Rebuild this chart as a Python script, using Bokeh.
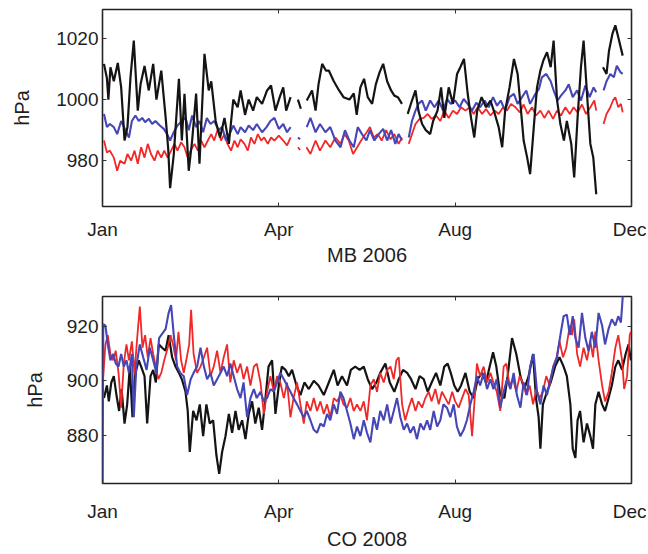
import math
from bokeh.plotting import figure
from bokeh.layouts import column
from bokeh.models import Range1d, FixedTicker, LinearAxis, CustomJSTickFormatter
from bokeh.embed import file_html
from bokeh.resources import INLINE

NaN = float("nan")

# x axis: day of year, tick labels
x_ticks = [0, 120, 240, 360]
x_labels = ["Jan", "Apr", "Aug", "Dec"]

# ---------------- MB 2006 ----------------
mb_yticks = [980, 1000, 1020]

mb_black_day = [1, 3, 4, 5.4, 7.7, 10.4, 12.7, 15, 17, 19, 21.3, 24, 25.9, 28.6, 31.5, 34.5, 36.7, 40, 43, 44.7,
                46, 48.5, 52, 54, 55.8, 58.7, 61, 63.7, 66, 69.4, 72.3, 74, 77, 80, 83, 86, 89, 92, 94, 97,
                99.5, 102.5, 105, 108.6, 112, 114.7, 117.7, 120.6, 123, 125, 128, 130, 133, 135, 136.5, 139, 142.6, 145, 147, 149.5,
                152, 154, 157.4, 161, 164, 168, 171, 173, 175.5, 178, 180.5, 183.5, 186, 188.6, 191, 193.7, 196.4, 198.6, 201, 203.8,
                206, 207.7, 210.6, 213, 215, 217.5, 220, 223, 225, 228, 230.4, 232.6, 235.6, 238.5, 241.3, 243.5, 246, 248.5, 250.8, 253,
                255, 258, 261, 264, 267, 269.6, 272, 274, 277, 280, 282.5, 284.4, 286.6, 289, 291, 293.5, 295.7, 298, 300, 302.5,
                305, 307, 309.3, 311.6, 314, 316, 319, 321, 323.3, 325.6, 327.4, 329.7, 332, 334, 336, 338, 340.6, 343, 344.7, 347,
                349, 351, 354]
mb_black_hpa = [1011.7, 1007, 1000, 1010.6, 1006, 1012, 1004, 986.6, 991, 1007, 1019.3, 996.4, 1005, 1011, 1003, 1011.7, 1000, 1009.5, 994, 984,
                971, 982, 1006.8, 986.6, 1001.9, 976.7, 986.6, 1002, 979, 1015, 1003, 1006, 993, 987.6, 994, 985.5, 1000, 997.5, 1003, 995,
                1000, 996.4, 1000.8, 998.6, 1003, 1004.6, 996.4, 1000.8, 1004, 996.4, 1000.8, NaN, 1000, 997, NaN, 999.7, 1003, 996.4, 1005, 1011.7,
                1009.5, 1009.5, 1006, 1003, 1000.8, 1000, 1002, 995, 1004, 1006.8, 1000.8, 998.6, 1005, 1009, 1011.7, 1006, 1003, 1001.3, 1000.8, 998.6,
                NaN, 995.3, 999.7, 1003, 996.4, 992, 990, 988.7, 993, 996.4, 1004, 994, 1004, 998.6, 1008.4, 1010.6, 1013.3, 1002, 994, 987.6,
                996.4, 1000.8, 997.5, 999.7, 995.3, 991, 984.4, 996.4, 1004, 1013.3, 1008.4, 998.6, 986.6, 981, 975.6, 991, 1004, 1009.5, 1012.8, 1015.5,
                1010.6, 1019.3, 1000, 992, 986.6, 993, 985.5, 974.5, 994, 1010.6, 1019.3, 1002, 985.5, 981, 969, NaN, 1010.6, 1008.4, 1016, 1021.5,
                1024.3, 1020.4, 1014.4]

mb_blue_day = [1, 3, 5, 7.7, 10, 12.7, 15.6, 18, 20, 22.4, 24.7, 27, 29, 31.5, 33.8, 36, 39, 41.7, 44, 46,
               48.5, 51, 54, 56.5, 58.7, 61, 63.7, 66, 68.5, 71, 73.5, 76, 79, 81.4, 84, 87, 89, 92, 94, 97,
               99.5, 102.5, 105, 108.6, 111.6, 114.3, 117, 120, 123, 125.6, 128, 130, 133, 134.5, 136.5, 139, 141.5, 145, 148, 151.7,
               155, 158.5, 162, 165, 168, 171, 173.7, 176.6, 179.6, 182, 185, 188, 191, 193.7, 196.4, 199.3, 201.5, 203.8, 206, 208.4,
               210.6, 213, 215, 217.5, 220, 223, 225.9, 228.8, 231.8, 234.5, 237, 240, 243, 245.8, 248.5, 251.5, 254.4, 257, 260, 262.8,
               265.8, 268.5, 271, 274, 277, 280, 282.5, 285.5, 288.4, 291, 293.9, 297, 299, 302, 305, 307, 309.7, 312, 315, 317.3,
               320, 323, 325.6, 328.6, 331.5, 334.2, 336, 338, 341, 343, 345.6, 348, 350, 352.4, 354]
mb_blue_hpa = [995.3, 991, 992, 991, 988.7, 993, 990, 987.6, 993, 994.8, 993, 994, 992.6, 993.7, 992, 993, 991.5, 990.4, 988.7, 986.6,
               989.3, 991.5, 993, 994, 990, 994.8, 991, 993, 989.3, 994, 992, 993, 990, 991, 986.6, 989.3, 991.5, 988.7, 991, 989.3,
               991.5, 990, 992, 989.3, 991, 993, 994, 990.4, 992, 989.3, 991, NaN, 987.6, 987, NaN, 991, 994, 989.3, 992, 989.3,
               991, 986.6, 984.4, 990, 986.6, 984.4, 991, 988.7, 986.6, 990, 986.6, 988.7, 990.4, 986.6, 990, 985.5, 988.7, 986.6, NaN, 987.6,
               993, 996.4, 998.6, 999.7, 996.4, 999.7, 997.5, 999.7, 996.4, 1000.2, 998.6, 999.7, 997.5, 1000.2, 998.6, 996.4, 999, 997.5, 999.7, 997.5,
               1000.8, 998, 999.7, 996.4, 1000.8, 1001.9, 998.6, 1000.8, 1003, 998.6, 1001.3, 1003.5, 1007.3, 1008.4, 1006, 1003, 999.7, 1001.3, 1003, 1005,
               1000.8, 1003, 999.7, 1004.6, 1000.8, 1004, 1002.4, NaN, 1003, 1006, 1008.4, 1007.3, 1011.1, 1009, 1008.4]

mb_red_day = [1, 3, 5, 7.7, 10, 12, 15, 17, 19.5, 21.8, 24, 26.3, 28.6, 30.8, 33, 35.4, 37.6, 40, 42, 44.4,
              46.7, 49, 51, 53.5, 55.8, 58, 60, 62.6, 64.9, 67, 69.4, 71.7, 74, 76, 78.5, 80.7, 83, 85, 87.5, 89.8,
              92, 94, 96.6, 98.9, 101, 103.4, 105.7, 108, 110, 112.5, 114.7, 117, 120, 123, 125.6, 128, 130, 133, 134.5, 136.5,
              138.8, 141.5, 145, 148, 151.7, 155, 158.5, 162, 164.6, 167.6, 170.5, 173.3, 176, 179, 182, 184.6, 187.3, 190, 193, 196,
              198.6, 201.5, 203.8, 206, 208.4, 210.6, 213, 215.8, 218.6, 221.3, 224, 227, 229.9, 232.6, 235.6, 238.5, 241.3, 244, 247, 249.9,
              252.6, 255.3, 258.3, 261, 264, 267, 269.6, 272.6, 275.3, 278, 281, 284, 286.6, 289.3, 292.3, 295, 298, 300.7, 303.6, 306.6,
              309.3, 312, 315, 318, 320.6, 323.3, 326.3, 329, 332, 334.7, 336, 338, 341, 343, 345.6, 347.4, 349, 351, 352.8, 354]
mb_red_hpa = [986.6, 982.7, 983.3, 981, 976.7, 980, 979, 982.2, 980, 983.3, 979, 984.4, 981, 985.5, 982.2, 980, 983.3, 981, 983.3, 981,
              983.3, 985.5, 983.3, 986, 984.4, 981, 983.3, 985.5, 983.3, 986.6, 984.4, 986.6, 988.7, 986.6, 990.4, 986.6, 988.7, 985.5, 983.3, 986.6,
              984.4, 987, 985.5, 983.3, 987.6, 985.5, 988.7, 986.6, 987.6, 985.5, 987.6, 986.6, 988.2, 986.6, 985, 987.6, NaN, 984.4, 983.5, NaN,
              984.4, 982.2, 986.6, 983.3, 986.6, 984.4, 987.6, 985.5, 988.7, 986.6, 982.2, 984.4, 986.6, 988.7, 991, 987.6, 988.7, 986.6, 990, 987,
              988.7, 985.5, 987.6, NaN, 985.5, 988.7, 992, 993.7, 994, 995.3, 993.7, 994.8, 993, 996.4, 994, 996.4, 995.3, 997.5, 996.4, 997.5,
              995.3, 997.5, 995.3, 996.9, 994.8, 996.4, 995.3, 997.5, 996.4, 998.6, 997.5, 995.8, 998.4, 995.3, 997.5, 994.8, 996.4, 994, 996.4, 993.7,
              996.4, 994.8, 997.5, 995.3, 997.5, 995.8, 998.4, 995.3, 997.5, 999.7, 996.4, NaN, 992, 995.3, 997.5, 999.7, 1000.8, 997.5, 998.6, 995.8]

# ---------------- CO 2008 ----------------
co_yticks = [880, 900, 920]

co_black_day = [1, 3, 4.3, 6, 7.7, 9.5, 11.3, 13, 15, 16.8, 18.6, 20.4, 22.4, 24.7, 26.3, 28.6, 30.4, 32.7, 34.5, 36.3,
                38.3, 40.6, 42.9, 45, 47.4, 49.7, 52, 54, 56.5, 58, 59.4, 61.7, 64, 66.2, 68.5, 70.7, 73, 75.3, 77.5, 79.4,
                81.4, 83.7, 86, 88.2, 90.5, 92.7, 95, 97.3, 99.5, 101.8, 104, 106.3, 108.6, 110.9, 113, 115.4, 117.7, 120, 122, 124.5,
                126.8, 129, 132, 134.7, 137.4, 140.4, 143.8, 147, 150.6, 154, 157.4, 160, 163, 166.4, 169, 172, 175, 177.8, 180.5, 183.5,
                186.4, 189, 192.5, 195.5, 198.6, 201.6, 204.5, 207.3, 210, 213, 215.8, 218.6, 221.3, 224, 227, 229.9, 232.6, 234.9, 237, 239.4,
                241.7, 244, 247, 249.9, 252.6, 255.3, 258.3, 261, 263.5, 265.8, 268, 270.7, 273.5, 275.7, 278.7, 281.6, 284.4, 287, 290, 293,
                295, 296.8, 298, 299.7, 302.5, 305, 308, 311, 313.8, 316, 318.4, 320, 321.8, 323.3, 325, 327.4, 329.7, 332, 333.8, 335.4,
                337.6, 340, 342, 344.4, 346.6, 349, 351, 353.6, 356, 358, 359.6]
co_black_hpa = [893.7, 898.3, 892.5, 899.4, 901.7, 894.8, 889, 897, 884.4, 891.4, 905.2, 886.7, 902.9, 907.5, 905.2, 901.7, 884.4, 901.7, 904, 899.4,
                913.3, 912.1, 911, 916.7, 908.6, 905.2, 902.9, 900.6, 896, 889, 874, 889, 885.6, 891.4, 879.8, 891.4, 884.4, 885.6, 872.9, 866,
                874, 879.8, 887.9, 881, 889, 882.1, 885.6, 878.7, 887.9, 892.5, 884.4, 890.2, 882.1, 893.7, 905.2, 907.5, 887.9, 898.3, 905.2, 904,
                901.7, 904, 898.3, 894.8, 899.4, 897, 900, 898.3, 894.8, 899.4, 904, 898.3, 901.7, 898.3, 904, 905.2, 904, 905.2, 900.6, 897,
                899.4, 902.9, 906.3, 899.4, 896, 900.6, 904, 902.9, 900.6, 897, 901.7, 900.6, 896, 899.4, 902.9, 898.3, 905.2, 906.3, 902.9, 898.3,
                896, 898.3, 902.9, 896, 893.7, 900.6, 902.9, 899.4, 905.2, 910.4, 905.2, 894.8, 893.7, 901.7, 915.6, 909.8, 901.7, 897, 901.7, 909.8,
                893.7, 886.7, 875.2, 891.4, 896, 899.4, 905.2, 908.6, 905.2, 901.7, 891.4, 875.2, 871.8, 885.6, 889, 877.5, 884.4, 879.8, 875.2, 891.4,
                896, 891.4, 889, 893.7, 898.3, 905.2, 907.5, 904, 909.8, 913.3, 907.5]

co_blue_day = [0, 0.5, 2, 3.6, 5.4, 7.3, 9, 10.9, 12.7, 14.5, 16.3, 18, 20, 21.3, 23, 25.4, 27.7, 30, 32.2, 34.5,
               36.7, 38.5, 40.8, 43, 45, 46.7, 48.5, 50.8, 53, 55.3, 57.6, 60, 62, 64.4, 66.7, 69, 71.2, 73.5, 75.7, 78,
               80.3, 82.5, 84.8, 87, 89.3, 91.6, 93.9, 96, 98.4, 100.7, 103, 105, 107.5, 109.8, 112, 114.3, 116.6, 118.8, 121, 123.4,
               125.6, 127.9, 130, 132.4, 134.7, 137, 139, 141.5, 143.8, 146, 148.3, 150.6, 152.8, 155, 157.4, 159.6, 161.9, 164, 166.4, 168.7,
               171, 173.2, 175.5, 177.8, 180, 182.3, 184.6, 186.8, 189, 191.4, 193.7, 196, 198.2, 200.4, 202.7, 205, 207.3, 209.5, 211.8, 214,
               216.3, 218.6, 220.9, 223, 225.4, 227.7, 229.9, 232, 234.4, 236.7, 239, 241.2, 243.5, 245.8, 248, 250.3, 252.6, 254.8, 257, 259.4,
               261.7, 264, 266, 268.3, 270.7, 273, 275.3, 277.6, 279.8, 282, 284.4, 286.6, 288.9, 291, 293.4, 295.7, 298, 300.2, 302.5, 304.8,
               307, 309.3, 311.6, 313.8, 316, 318, 320, 321.8, 324, 326.3, 328.6, 330.8, 333, 335.4, 337.6, 340, 342, 344.4, 346.6, 349,
               351, 352.8, 354, 355.5]
co_blue_hpa = [850, 920.7, 920.2, 913.3, 907.5, 909.8, 906.3, 905.2, 909.8, 905.2, 907.5, 902.9, 909.8, 886.7, 905.2, 913.3, 908.6, 904, 912.1, 907.5,
               902.9, 915.6, 917.3, 919, 924.8, 927.7, 916.7, 905.2, 902.9, 901.7, 894.8, 900.6, 902.9, 905.2, 912.1, 905.2, 900.6, 902.9, 898.3, 900.6,
               902.9, 905.2, 901.7, 906.3, 901.7, 897, 893.7, 899.4, 886.7, 893.7, 897, 893.7, 896, 892.5, 893.7, 897, 896, 899.4, 902.9, 900.6,
               898.3, 896, 893.7, 891.4, 889, 886.7, 889, 885.6, 882.1, 881, 884.4, 883.3, 887.9, 885.6, 891.4, 887.9, 896, 893.7, 889, 884.4,
               878.7, 883.3, 879.8, 885.6, 881, 877.5, 886.7, 882.1, 889, 885.6, 891.4, 884.4, 889, 893.7, 886.7, 882.1, 884.4, 881, 883.3, 878.7,
               884.4, 882.1, 885.6, 882.1, 889, 883.3, 885.6, 891.4, 890.2, 886.7, 891.4, 883.3, 879.8, 882.1, 885.6, 891.4, 896, 901.7, 898.3, 902.9,
               897, 900.6, 897, 900.6, 890.2, 896, 900.6, 897, 902.9, 894.8, 890.2, 899.4, 894.8, 905.2, 909.8, 896, 891.4, 898.3, 894.8, 900.6,
               905.2, 908.6, 916.7, 923.6, 924.2, 916.7, 923.6, 915.6, 912.1, 924.8, 915.6, 910.9, 917.9, 912.1, 924.8, 920.2, 913.3, 919, 922.5, 920.2,
               923.6, 921.3, 930.5, 940]

co_red_day = [0.5, 2, 3.6, 5.4, 7.3, 9, 10.9, 12.7, 14.5, 16.3, 18, 20, 21.8, 23.6, 25.4, 27.2, 29, 30.8, 32.7, 34.5,
              36.3, 38, 40, 42, 44.4, 46.3, 48, 50, 51.7, 53.5, 55.3, 57, 59, 60.3, 62, 64.4, 66.7, 69, 71.2, 73.5,
              75.7, 78, 80.3, 82.5, 84.8, 87, 89.3, 91.6, 93.9, 96, 98.4, 100.7, 103, 105, 107.5, 109.8, 112, 114.3, 116.6, 118.8,
              121, 123.4, 125.6, 127.9, 130, 132.4, 134.7, 137, 139, 141.5, 143.8, 146, 148.3, 150.6, 152.8, 155, 157.4, 159.6, 161.9, 164,
              166.4, 168.7, 171, 173.2, 175.5, 177.8, 180, 182.3, 184.6, 186.8, 189, 191.4, 193.7, 196, 198.2, 200, 201.6, 203.9, 206, 208.4,
              210.6, 213, 215, 217.5, 219.7, 222, 224, 226.5, 228.8, 231, 233.3, 235.6, 238, 240, 242.4, 244.7, 247, 249.2, 251.5, 253,
              254.8, 257, 259.4, 261.7, 264, 266, 268.3, 270.7, 273, 274.8, 277, 279.4, 281.6, 283.9, 286, 288.4, 290.7, 293, 295.2, 297.5,
              299.7, 302, 304.3, 306.6, 309, 311, 313.4, 315.6, 318, 319.5, 321, 323, 325, 327.4, 329.7, 332, 333.8, 335.4, 337.6, 340,
              342, 344.4, 346.6, 349, 351, 353.6, 355, 357, 358.8, 359.6]
co_red_hpa = [901.7, 913.3, 916.7, 909.8, 907.5, 911, 902.9, 890.2, 906.3, 913.3, 907.5, 914.4, 902.9, 915.6, 927.1, 912.1, 916.7, 908.6, 915.6, 909.8,
              905.2, 900.6, 902.9, 907.5, 912.1, 916.7, 913.3, 907.5, 917.9, 907.5, 902.9, 907.5, 913.3, 925.9, 909.8, 902.9, 905.2, 908.6, 912.1, 901.7,
              905.2, 911, 902.9, 908.6, 913.3, 899.4, 907.5, 902.9, 906.3, 900.6, 905.2, 898.3, 905.2, 906.3, 899.4, 887.9, 896, 901.7, 896, 901.7,
              899.4, 893.7, 899.4, 886.7, 893.7, 899.4, 891.4, 884.4, 892.5, 889, 893.7, 889, 892.5, 887.9, 891.4, 886.7, 893.7, 892.5, 894.8, 891.4,
              890.2, 893.7, 889, 891.4, 889, 892.5, 885.6, 898.3, 900.6, 896, 902.9, 899.4, 904, 905.2, 900.6, 907.5, 908.6, 891.4, 885.6, 890.2,
              893.7, 889, 892.5, 890.2, 893.7, 896, 892.5, 897, 891.4, 896, 893.7, 891.4, 896, 892.5, 890.2, 893.7, 897, 894.8, 879.8, 891.4,
              906.3, 901.7, 905.2, 899.4, 902.9, 899.4, 896, 889, 905.2, 906.3, 898.3, 900.6, 896, 901.7, 899.4, 894.8, 898.3, 891.4, 897, 893.7,
              896, 901.7, 898.3, 905.2, 908.6, 914.4, 908.6, 912.1, 920.2, 916.7, 922.5, 909.8, 905.2, 912.1, 907.5, 914.4, 908.6, 918, 907.5, 898.3,
              892.5, 896, 902.9, 912.1, 916.7, 907.5, 897, 901.7, 916.7, 918]

BLACK = "#141414"
BLUE = "#4646b6"
RED = "#f02828"
FONT = "Liberation Sans"
TXT = "#1e1e1e"


def style_axis(ax, labels=True):
    ax.major_tick_in = 4
    ax.major_tick_out = 0
    ax.minor_tick_line_color = None
    ax.major_tick_line_color = "#333333"
    ax.major_tick_line_width = 1
    ax.axis_line_color = None
    ax.major_label_text_font = FONT
    ax.major_label_text_font_size = "19px"
    ax.major_label_text_color = TXT
    ax.axis_label_text_font = FONT
    ax.axis_label_text_font_size = "20px"
    ax.axis_label_text_font_style = "normal"
    ax.axis_label_text_color = TXT
    if not labels:
        ax.formatter = CustomJSTickFormatter(code="return ''")
        ax.major_label_standoff = 0


def panel(title, y0, y1, yticks, height, btop, bbottom, ylab_standoff, xlab_standoff, xtick_standoff, series):
    p = figure(width=646, height=height, x_range=Range1d(0, 360), y_range=Range1d(y0, y1),
               output_backend="svg", toolbar_location=None,
               min_border_left=102, min_border_right=15, min_border_top=btop, min_border_bottom=bbottom)
    p.xgrid.visible = False
    p.ygrid.visible = False
    p.outline_line_color = "#222222"
    p.outline_line_width = 1.6
    p.background_fill_color = "white"
    p.border_fill_color = "white"

    p.xaxis.ticker = FixedTicker(ticks=x_ticks)
    p.xaxis.major_label_overrides = {t: l for t, l in zip(x_ticks, x_labels)}
    p.yaxis.ticker = FixedTicker(ticks=yticks)
    style_axis(p.xaxis[0])
    style_axis(p.yaxis[0])
    p.xaxis.axis_label = title
    p.yaxis.axis_label = "hPa"
    p.xaxis.major_label_standoff = xtick_standoff
    p.xaxis.axis_label_standoff = xlab_standoff
    p.yaxis.major_label_standoff = 4
    p.yaxis.axis_label_standoff = ylab_standoff

    top = LinearAxis(ticker=FixedTicker(ticks=x_ticks))
    style_axis(top, labels=False)
    p.add_layout(top, "above")
    right = LinearAxis(ticker=FixedTicker(ticks=yticks))
    style_axis(right, labels=False)
    p.add_layout(right, "right")

    for days, vals, color, lw in series:
        p.line(days, vals, line_color=color, line_width=lw)
    return p


p1 = panel("MB 2006", 965, 1029.5, mb_yticks, 288, 9, 82, 20, 1, 12,
           [(mb_red_day, mb_red_hpa, RED, 1.8),
            (mb_blue_day, mb_blue_hpa, BLUE, 2.1),
            (mb_black_day, mb_black_hpa, BLACK, 2.2)])
p2 = panel("CO 2008", 862.5, 930.8, co_yticks, 264, 8, 59, 18, 3, 17,
           [(co_black_day, co_black_hpa, BLACK, 2.2),
            (co_red_day, co_red_hpa, RED, 1.8),
            (co_blue_day, co_blue_hpa, BLUE, 2.1)])

layout = column(p1, p2)
open("out.html", "w").write(file_html(layout, INLINE))
